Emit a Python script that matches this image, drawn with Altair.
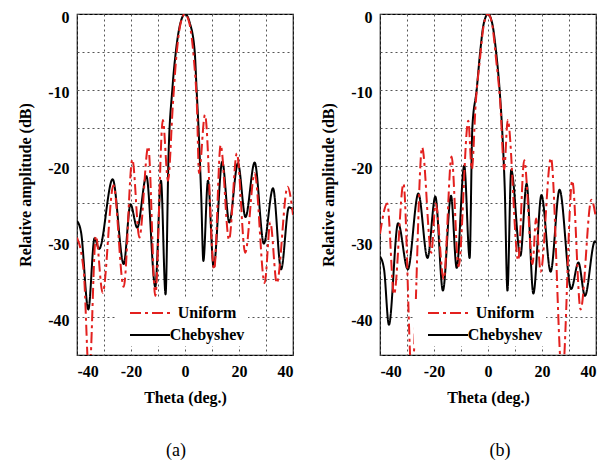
import altair as alt
import pandas as pd

# ---------------- data ----------------
# Panel (a)
a_cheb_theta = [-40, -38.5, -35.8, -33.5, -31.8, -26.8, -22.7, -20.2, -17.7, -14.3, -11.0, -8.9, -7.2,
                -6.1, -4.7, -3.4, -1.7, 0, 1.8, 3.6, 4.3, 5.0, 6.0, 6.8, 8.5, 10.6, 13.8, 16.4, 19.6,
                22.4, 25.8, 29.2, 32.6, 35.6, 38.5, 40]
a_cheb_db = [-27.3, -28.8, -39.0, -29.6, -31.0, -21.8, -33.0, -25.1, -28.2, -21.4, -36.0, -22.0, -37.0,
             -18.7, -10.0, -5.0, -1.2, 0, -1.2, -5.0, -10.0, -15.0, -24.0, -32.6, -22.0, -33.4, -19.5,
             -27.5, -19.7, -26.8, -19.6, -30.3, -23.0, -33.7, -25.5, -25.8]

a_unif_theta = [-40, -37.5, -35.5, -33.0, -30.5, -26.5, -22.7, -19.5, -16.9, -13.6, -11.0, -8.2, -6.3,
                -4.5, -3.3, -1.6, 0, 1.6, 3.3, 4.4, 5.2, 7.4, 10.8, 13.2, 16.3, 19.2, 22.3, 25.8,
                29.5, 31.6, 34.0, 38.0, 40]
a_unif_db = [-29.5, -34.0, -48.0, -29.3, -36.8, -22.6, -36.0, -19.2, -29.5, -17.5, -37.2, -14.0, -22.0,
             -12.0, -6.0, -1.2, 0, -1.2, -6.0, -12.0, -21.0, -13.3, -33.7, -17.3, -29.8, -18.4, -31.5,
             -21.0, -35.5, -27.5, -35.5, -22.8, -26.5]

# Panel (b)
b_cheb_theta = [-40, -38.5, -36.7, -33.3, -29.7, -25.8, -22.4, -19.5, -16.7, -13.7, -11.6, -8.8, -6.8,
                -5.8, -4.2, -2.9, -1.6, 0, 1.6, 3.0, 4.3, 5.2, 6.2, 7.2, 8.6, 12.0, 14.3, 16.8, 19.8,
                23.2, 26.5, 30.8, 33.5, 35.9, 39.6, 40]
b_cheb_db = [-32.0, -33.7, -41.0, -27.6, -33.7, -23.7, -32.2, -24.1, -36.5, -24.0, -33.5, -20.0, -32.2,
             -15.0, -10.0, -5.0, -1.3, 0, -1.3, -5.0, -10.0, -15.0, -23.0, -36.5, -20.6, -31.9, -22.4,
             -36.9, -23.9, -34.0, -23.2, -36.3, -32.8, -37.2, -30.0, -30.2]

b_unif_theta = [-40, -37.3, -34.8, -31.3, -28.2, -24.4, -21.0, -19.4, -16.4, -13.5, -10.9, -7.3, -6.0,
                -4.5, -3.0, -1.5, 0, 1.5, 3.0, 4.5, 6.0, 7.3, 11.2, 13.4, 16.5, 17.8, 19.5, 23.3,
                27.5, 31.2, 34.3, 38.3, 40]
b_unif_db = [-29.0, -25.0, -37.0, -22.4, -48.0, -17.6, -31.5, -25.0, -35.0, -18.8, -33.3, -14.1, -20.5,
             -11.5, -6.0, -1.3, 0, -1.3, -6.0, -11.5, -20.5, -14.0, -32.5, -19.3, -33.0, -27.0, -34.0,
             -19.0, -48.0, -22.0, -39.0, -24.5, -27.0]

methods = ["Uniform", "Chebyshev"]
colors = ["#e3201e", "#000000"]
dashes = [[11, 4, 3, 4], [1, 0]]

SERIF = "Liberation Serif"


def frame(tu, du, tc, dc):
    fu = pd.DataFrame({"theta": tu, "db": du, "method": "Uniform"})
    fc = pd.DataFrame({"theta": tc, "db": dc, "method": "Chebyshev"})
    return pd.concat([fc, fu], ignore_index=True)


def panel(df, caption, dx, lx):
    legend = alt.Legend(
        title=None, orient="none", legendX=lx, legendY=285,
        symbolType="M -2 0 L 2 0", symbolSize=400, symbolStrokeWidth=2,
        symbolOffset=20,
        labelFont=SERIF, labelFontSize=16, labelFontWeight="bold", labelColor="black",
        labelAlign="center", labelOffset=46, rowPadding=3, padding=3, fillColor="white",
    )
    return alt.Chart(df).mark_line(clip=True, strokeWidth=2, interpolate="monotone").encode(
        x=alt.X("theta:Q",
                scale=alt.Scale(domain=[-40, 40], nice=False, zero=False),
                axis=alt.Axis(values=list(range(-40, 41, 10)),
                              labelExpr="datum.value % 20 == 0 ? '' + datum.value : ''",
                              title="Theta (deg.)", titlePadding=10, labelPadding=8)),
        y=alt.Y("db:Q",
                scale=alt.Scale(domain=[-45, 0], nice=False, zero=False),
                axis=alt.Axis(values=list(range(-45, 1, 5)),
                              labelExpr="datum.value % 10 == 0 ? '' + datum.value : ''",
                              title="Relative amplitude (dB)", titlePadding=14, labelPadding=8,
                              labelOffset=3)),
        color=alt.Color("method:N", scale=alt.Scale(domain=methods, range=colors), legend=legend),
        strokeDash=alt.StrokeDash("method:N", scale=alt.Scale(domain=methods, range=dashes), legend=legend),
        order=alt.Order("method:N"),
    ).properties(
        width=216, height=341,
        title=alt.TitleParams(caption, orient="bottom", font=SERIF, fontSize=18, fontWeight="normal",
                              offset=37, dx=dx, color="black"),
    )


pa = panel(frame(a_unif_theta, a_unif_db, a_cheb_theta, a_cheb_db), "(a)", -9, 39)
pb = panel(frame(b_unif_theta, b_unif_db, b_cheb_theta, b_cheb_db), "(b)", 12, 34)

chart = alt.hconcat(pa, pb, spacing=26).resolve_scale(
    color="independent", strokeDash="independent"
).properties(
    padding={"left": 9, "top": 0, "right": 0, "bottom": 0},
    background="white",
).configure_view(
    stroke="black", strokeWidth=1.2
).configure_axis(
    labelFont=SERIF, labelFontSize=16, labelFontWeight="bold", labelColor="black",
    titleFont=SERIF, titleFontSize=16, titleFontWeight="bold", titleColor="black",
    domain=False, ticks=False,
    grid=True, gridColor="#555555", gridDash=[2, 3], gridWidth=1, gridOpacity=1,
)

chart.save("out.html", embed_options={"renderer": "svg", "actions": False})
